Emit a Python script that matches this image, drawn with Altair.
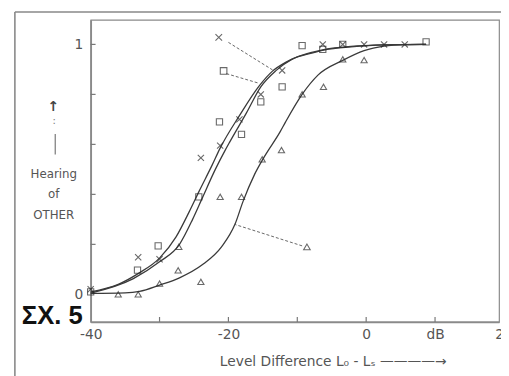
import altair as alt
import pandas as pd

# ---- data ----
# fitted curves
c1_x = [-40, -36, -33, -30, -27.6, -25.7, -24.3, -22.4, -21.2, -18.4, -15.5, -13.6, -11.7, -10, -7.9, -6, -2.2, 2.6, 8.7]
c1_y = [0.01, 0.04, 0.085, 0.145, 0.23, 0.33, 0.41, 0.515, 0.585, 0.715, 0.835, 0.893, 0.928, 0.95, 0.968, 0.98, 0.992, 0.998, 1.0]
c2_x = [-40, -33.8, -30, -27.1, -25.2, -23.8, -21.9, -20.5, -19.8, -17.4, -15.3, -13.1, -10.8, -7.9, -6, -2.2, 2.6, 8.7]
c2_y = [0.005, 0.063, 0.13, 0.20, 0.30, 0.385, 0.50, 0.575, 0.61, 0.725, 0.83, 0.895, 0.94, 0.965, 0.978, 0.99, 0.998, 1.0]
c3_x = [-40, -35, -32.9, -30, -27.1, -23.8, -21, -19.05, -17.9, -16.2, -14.8, -12.5, -11.7, -9.3, -7, -3.4, -0.3, 2.6, 5.6, 8.7]
c3_y = [0.004, 0.006, 0.012, 0.037, 0.066, 0.118, 0.19, 0.28, 0.37, 0.48, 0.55, 0.65, 0.69, 0.80, 0.877, 0.936, 0.975, 0.993, 0.999, 1.0]

# measured points
cross_x = [-40, -33.1, -30.0, -24.0, -21.2, -18.4, -15.3, -12.2, -6.3, -3.4, -0.3, 2.6, 5.6]
cross_y = [0.02, 0.148, 0.14, 0.546, 0.595, 0.70, 0.80, 0.896, 1.0, 1.0, 1.0, 1.0, 1.0]
square_x = [-40, -33.2, -30.2, -24.3, -21.3, -18.1, -15.3, -12.2, -9.3, -6.3, -3.4, 8.7]
square_y = [0.01, 0.097, 0.194, 0.39, 0.69, 0.64, 0.77, 0.83, 0.995, 0.98, 1.0, 1.01]
tri_x = [-36, -33.1, -30.0, -27.3, -27.2, -24.0, -21.2, -18.1, -15.1, -12.3, -9.3, -6.2, -3.4, -0.3]
tri_y = [0.0, 0.0, 0.043, 0.096, 0.19, 0.05, 0.39, 0.39, 0.54, 0.577, 0.80, 0.83, 0.94, 0.937]

# legend symbols with leader lines
key_series = ["cross", "square", "triangle"]
key_x = [-21.4, -20.7, -8.6]
key_y = [1.028, 0.894, 0.19]
lead_x1 = [-20.0, -20.3, -9.3]
lead_y1 = [1.008, 0.883, 0.194]
lead_x2 = [-13.6, -15.5, -19.1]
lead_y2 = [0.898, 0.844, 0.28]

x_ticks = [-30, -20, -10, 0, 10]
y_ticks = [0.2, 0.4, 0.6, 0.8, 1.0]
x_label_values = [-40, -20, 0, 10]
x_edge_label = [20]
y_label_values = [0, 1]
fig_label = ["ΣX. 5"]
y_arrow = ["↑"]
y_dots = [":"]

series_names = ["cross", "square", "triangle"]
shape_range = ["M-1,-1L1,1M-1,1L1,-1", "square", "triangle-up"]

FONT = "DejaVu Sans"
GRAY = "#555555"
INK = "#2a2a2a"

curves = pd.concat([
    pd.DataFrame({"x": c1_x, "y": c1_y, "s": "cross"}),
    pd.DataFrame({"x": c2_x, "y": c2_y, "s": "square"}),
    pd.DataFrame({"x": c3_x, "y": c3_y, "s": "triangle"}),
])
points = pd.concat([
    pd.DataFrame({"x": cross_x, "y": cross_y, "s": "cross"}),
    pd.DataFrame({"x": square_x, "y": square_y, "s": "square"}),
    pd.DataFrame({"x": tri_x, "y": tri_y, "s": "triangle"}),
])
keys = pd.DataFrame({"x": key_x, "y": key_y, "s": key_series})
leads = pd.DataFrame({"x": lead_x1, "y": lead_y1, "x2": lead_x2, "y2": lead_y2})

W, H = 415, 307
xscale = alt.Scale(domain=[-40, 19.29], nice=False, zero=False)
yscale = alt.Scale(domain=[-0.1102, 1.0984], nice=False, zero=False)
shape_scale = alt.Scale(domain=series_names, range=shape_range)

X_TITLE = "Level Difference  L₀ - Lₛ ————→"
Y_TITLE = ["Hearing", "of", "OTHER"]

x_axis = alt.Axis(
    values=x_label_values,
    labelExpr="datum.value == 10 ? 'dB' : toString(datum.value)",
    ticks=False, grid=False, domainColor="#8a8a8a", domainWidth=1.6,
    labelFont=FONT, labelFontSize=14, labelColor=GRAY, labelPadding=6,
    labelFlush=False, labelOverlap=False,
    title=X_TITLE, titleFont=FONT, titleFontSize=14,
    titleFontWeight="normal", titleColor=GRAY, titleX=246, titleY=40,
    titleBaseline="middle", titleAlign="center",
)
y_axis = alt.Axis(
    values=y_label_values, format="d",
    ticks=False, grid=False, domainColor="#8a8a8a", domainWidth=1.8,
    labelFont=FONT, labelFontSize=14, labelColor=GRAY, labelPadding=8,
    labelOverlap=False,
    title=Y_TITLE,
    titleFont=FONT, titleFontSize=12, titleFontWeight="normal", titleColor=GRAY,
    titleAngle=0, titleAlign="center", titleBaseline="middle", titleLineHeight=21,
    titleX=-38, titleY=156,
)

X = alt.X("x:Q", scale=xscale, axis=x_axis, title=X_TITLE)
Y = alt.Y("y:Q", scale=yscale, axis=y_axis, title=Y_TITLE)

curve_layer = alt.Chart(curves).mark_line(
    interpolate="monotone", color="#3a3a3a", strokeWidth=1.3
).encode(x=X, y=Y, detail="s:N")

point_layer = alt.Chart(points).mark_point(
    filled=False, color=INK, strokeWidth=1.1, size=40
).encode(
    x=X, y=Y,
    shape=alt.Shape("s:N", scale=shape_scale, legend=None),
)

key_layer = alt.Chart(keys).mark_point(
    filled=False, color=INK, strokeWidth=1.1, size=45
).encode(
    x=X, y=Y,
    shape=alt.Shape("s:N", scale=shape_scale, legend=None),
)

lead_layer = alt.Chart(leads).mark_rule(
    color="#555555", strokeWidth=0.9, strokeDash=[3, 2]
).encode(x=X, y=Y, x2="x2:Q", y2="y2:Q")

ytick_layer = alt.Chart(pd.DataFrame({"y": y_ticks})).mark_rule(
    color="#777777", strokeWidth=1.2
).encode(y=Y, x=alt.value(0), x2=alt.value(5))

xtick_layer = alt.Chart(pd.DataFrame({"x": x_ticks})).mark_rule(
    color="#777777", strokeWidth=1.2
).encode(x=X, y=alt.value(H), y2=alt.value(H - 5))

edge_label_layer = alt.Chart(pd.DataFrame({"x": x_edge_label})).mark_text(
    font=FONT, fontSize=14, color=GRAY, align="center", baseline="top"
).encode(x=X, y=alt.value(H + 6), text=alt.Text("x:Q", format="d"))

frame_left = alt.Chart(alt.Data(values=[{}])).mark_rule(
    color="#888888", strokeWidth=1.6
).encode(x=alt.value(-77), y=alt.value(-8), y2=alt.value(H + 60))

frame_top = alt.Chart(alt.Data(values=[{}])).mark_rule(
    color="#888888", strokeWidth=1.6
).encode(y=alt.value(-8), x=alt.value(-77), x2=alt.value(W + 10))

arrow_text = alt.Chart(pd.DataFrame({"t": y_arrow})).mark_text(
    font=FONT, fontSize=14, fontWeight="bold", color="#444444",
    align="center", baseline="middle",
).encode(text="t:N", x=alt.value(-38), y=alt.value(89))

dots_text = alt.Chart(pd.DataFrame({"t": y_dots})).mark_text(
    font=FONT, fontSize=10, color="#777777", align="center", baseline="middle",
).encode(text="t:N", x=alt.value(-37), y=alt.value(103))

arrow_bar = alt.Chart(alt.Data(values=[{}])).mark_rule(
    color="#777777", strokeWidth=1.2
).encode(x=alt.value(-36), y=alt.value(116), y2=alt.value(137))

fig_text = alt.Chart(pd.DataFrame({"t": fig_label})).mark_text(
    font="Liberation Sans", fontSize=26, fontWeight="bold", color="#111111",
    align="center", baseline="middle",
).encode(text="t:N", x=alt.value(-39), y=alt.value(301))

chart = alt.layer(
    curve_layer, frame_left, frame_top, lead_layer, point_layer, key_layer,
    ytick_layer, xtick_layer, edge_label_layer, arrow_text, dots_text, arrow_bar,
    fig_text,
).properties(
    width=W, height=H,
    autosize=alt.AutoSizeParams(type="none"),
    padding={"left": 84, "top": 9, "right": 2, "bottom": 52},
    background="white",
).configure_view(
    stroke="#8a8a8a", strokeWidth=1.2
)

chart.save("out.html", embed_options={"renderer": "svg", "actions": False})
